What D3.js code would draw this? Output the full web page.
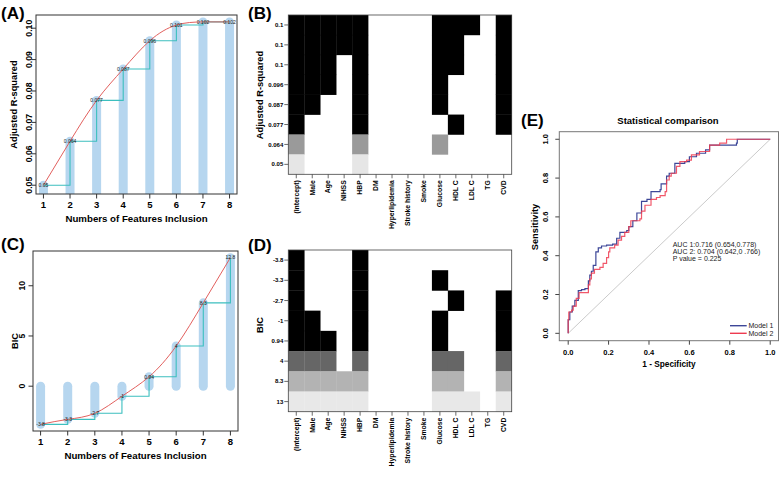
<!DOCTYPE html>
<html>
<head>
<meta charset="utf-8">
<script src="https://cdn.jsdelivr.net/npm/d3@7"></script>
<style>
body { margin: 0; background: #fff; }
svg { font-family: "Liberation Sans", Arial, sans-serif; }
</style>
</head>
<body>
<svg id="fig" width="779" height="478"></svg>
<script>
// ---- data ----
var featureCounts = [1, 2, 3, 4, 5, 6, 7, 8];
var adjR2 = [0.05, 0.064, 0.077, 0.087, 0.096, 0.101, 0.102, 0.102];
var adjR2Labels = ["0.05", "0.064", "0.077", "0.087", "0.096", "0.101", "0.102", "0.102"];
var bicValues = [-3.8, -3.3, -2.7, -1, 0.94, 4, 8.3, 12.8];
var bicLabels = ["-3.8", "-3.3", "-2.7", "-1", "0.94", "4", "8.3", "12.8"];

var variables = ["(Intercept)", "Male", "Age", "NIHSS", "HBP", "DM", "Hyperlipidemia",
    "Stroke history", "Smoke", "Glucose", "HDL C", "LDL C", "TG", "CVD"];

// rows listed top to bottom
var r2RowLabels = ["0.1", "0.1", "0.1", "0.096", "0.087", "0.077", "0.064", "0.05"];
var r2Models = [
    ["(Intercept)", "Male", "Age", "NIHSS", "HBP", "Glucose", "HDL C", "LDL C", "CVD"],
    ["(Intercept)", "Male", "Age", "NIHSS", "HBP", "Glucose", "HDL C", "CVD"],
    ["(Intercept)", "Male", "Age", "HBP", "Glucose", "HDL C", "CVD"],
    ["(Intercept)", "Male", "Age", "HBP", "Glucose", "CVD"],
    ["(Intercept)", "Male", "HBP", "Glucose", "CVD"],
    ["(Intercept)", "HBP", "HDL C", "CVD"],
    ["(Intercept)", "HBP", "Glucose"],
    ["(Intercept)", "HBP"]
];
var bicRowLabels = ["-3.8", "-3.3", "-2.7", "-1", "0.94", "4", "8.3", "13"];
var bicModels = [
    ["(Intercept)", "HBP"],
    ["(Intercept)", "HBP", "Glucose"],
    ["(Intercept)", "HBP", "HDL C", "CVD"],
    ["(Intercept)", "Male", "HBP", "Glucose", "CVD"],
    ["(Intercept)", "Male", "Age", "HBP", "Glucose", "CVD"],
    ["(Intercept)", "Male", "Age", "HBP", "Glucose", "HDL C", "CVD"],
    ["(Intercept)", "Male", "Age", "NIHSS", "HBP", "Glucose", "HDL C", "CVD"],
    ["(Intercept)", "Male", "Age", "NIHSS", "HBP", "Glucose", "HDL C", "LDL C", "CVD"]
];

// ROC corners [1 - specificity, sensitivity]
var rocModel1 = [[0,0],[0,0.07],[0.008,0.11],[0.02,0.14],[0.033,0.17],[0.05,0.22],[0.066,0.225],
    [0.083,0.23],[0.1,0.27],[0.107,0.3],[0.115,0.32],[0.124,0.35],[0.137,0.42],[0.149,0.44],
    [0.165,0.45],[0.19,0.455],[0.22,0.46],[0.24,0.49],[0.256,0.52],[0.29,0.53],[0.3,0.55],
    [0.32,0.58],[0.34,0.62],[0.363,0.68],[0.39,0.69],[0.41,0.73],[0.455,0.74],[0.46,0.77],
    [0.487,0.81],[0.5,0.825],[0.528,0.876],[0.577,0.885],[0.6,0.91],[0.635,0.928],[0.68,0.945],
    [0.7,0.97],[0.833,0.98],[0.837,1],[1,1]];
var rocModel2 = [[0,0],[0,0.07],[0.003,0.11],[0.017,0.12],[0.025,0.14],[0.04,0.18],[0.054,0.21],
    [0.1,0.25],[0.107,0.28],[0.115,0.31],[0.13,0.33],[0.157,0.34],[0.173,0.36],[0.19,0.39],
    [0.2,0.42],[0.206,0.44],[0.23,0.455],[0.247,0.48],[0.264,0.5],[0.28,0.52],[0.3,0.55],
    [0.31,0.58],[0.355,0.59],[0.363,0.63],[0.38,0.66],[0.41,0.69],[0.437,0.7],[0.455,0.71],
    [0.48,0.73],[0.487,0.79],[0.5,0.81],[0.51,0.825],[0.536,0.86],[0.553,0.885],[0.586,0.893],
    [0.61,0.92],[0.65,0.937],[0.7,0.97],[0.75,0.98],[0.784,1],[1,1]];
var aucLines = ["AUC 1:0.716 (0.654,0.778)", "AUC 2: 0.704 (0.642,0 .766)", "P value = 0.225"];
var rocTicks = [0, 0.2, 0.4, 0.6, 0.8, 1.0];

// ---- styles ----
var barColor = "#b6d6ef",
    curveColor = "#e2605e",
    stepColor = "#3cbfbf",
    shadesR2 = ["#000", "#000", "#000", "#000", "#000", "#000", "#9a9a9a", "#e6e6e6"],
    shadesBic = ["#000", "#000", "#000", "#000", "#000", "#666666", "#b3b3b3", "#e8e8e8"],
    model1Color = "#3d4798",
    model2Color = "#ee3b50";

var svg = d3.select("#fig");
var defs = svg.append("defs");

function panelLabel(txt, x, y) {
    svg.append("text").attr("x", x).attr("y", y)
        .attr("font-size", 17).attr("font-weight", "bold").text(txt);
}

// ---- line panels (A, C) ----
function linePanel(opts) {
    var x = d3.scaleLinear().domain([0.72, 8.28]).range([opts.left, opts.right]);
    var y = d3.scaleLinear().domain(opts.ydom).range([opts.bottom, opts.top]);
    var g = svg.append("g");
    var clipId = "clip-" + opts.id;
    defs.append("clipPath").attr("id", clipId).append("rect")
        .attr("x", opts.left).attr("y", opts.top)
        .attr("width", opts.right - opts.left).attr("height", opts.bottom - opts.top);

    var base = opts.base;
    g.append("g").attr("clip-path", "url(#" + clipId + ")")
        .selectAll("line").data(opts.values).join("line")
        .attr("x1", function(d, i) { return x(featureCounts[i]); })
        .attr("x2", function(d, i) { return x(featureCounts[i]); })
        .attr("y1", y(base))
        .attr("y2", function(d) { return y(d); })
        .attr("stroke", barColor).attr("stroke-width", 9)
        .attr("stroke-linecap", "round");

    var pts = opts.values.map(function(v, i) { return [featureCounts[i], v]; });
    g.append("path").datum(pts)
        .attr("d", d3.line().x(function(d) { return x(d[0]); }).y(function(d) { return y(d[1]); })
            .curve(d3.curveStepAfter))
        .attr("fill", "none").attr("stroke", stepColor).attr("stroke-width", 1.1);
    g.append("path").datum(pts)
        .attr("d", d3.line().x(function(d) { return x(d[0]); }).y(function(d) { return y(d[1]); })
            .curve(d3.curveNatural))
        .attr("fill", "none").attr("stroke", curveColor).attr("stroke-width", 1);

    g.selectAll("text.pt").data(pts).join("text").attr("class", "pt")
        .attr("x", function(d) { return x(d[0]); })
        .attr("y", function(d) { return y(d[1]) + 1.8; })
        .attr("text-anchor", "middle").attr("font-size", 5).attr("fill", "#222")
        .text(function(d, i) { return opts.labels[i]; });

    g.append("rect").attr("x", opts.left).attr("y", opts.top)
        .attr("width", opts.right - opts.left).attr("height", opts.bottom - opts.top)
        .attr("fill", "none").attr("stroke", "#333").attr("stroke-width", 1);

    // x axis
    var xa = g.append("g");
    xa.selectAll("line").data(featureCounts).join("line")
        .attr("x1", x).attr("x2", x).attr("y1", opts.bottom).attr("y2", opts.bottom + 4.5)
        .attr("stroke", "#333");
    xa.selectAll("text").data(featureCounts).join("text")
        .attr("x", x).attr("y", opts.bottom + 13.5)
        .attr("text-anchor", "middle").attr("font-size", 9.5).attr("font-weight", "bold")
        .text(function(d) { return d; });
    g.append("text").attr("x", (opts.left + opts.right) / 2).attr("y", opts.bottom + 27.5)
        .attr("text-anchor", "middle").attr("font-size", 9.7).attr("font-weight", "bold")
        .text("Numbers of Features Inclusion");

    // y axis
    var ya = g.append("g");
    ya.selectAll("line").data(opts.yticks).join("line")
        .attr("x1", opts.left - 4.5).attr("x2", opts.left).attr("y1", y).attr("y2", y)
        .attr("stroke", "#333");
    ya.selectAll("text").data(opts.yticks).join("text")
        .attr("transform", function(d) { return "translate(" + opts.ylabX + "," + y(d) + ") rotate(-90)"; })
        .attr("text-anchor", "middle").attr("font-size", 8.7).attr("font-weight", "bold")
        .text(opts.yfmt);
    g.append("text")
        .attr("transform", "translate(" + opts.titleX + "," + (opts.top + opts.bottom) / 2 + ") rotate(-90)")
        .attr("text-anchor", "middle").attr("font-size", 9.3).attr("font-weight", "bold")
        .text(opts.ytitle);
}

linePanel({
    id: "a", left: 36, right: 237, top: 15, bottom: 194,
    ydom: [0.0472, 0.1042], values: adjR2, labels: adjR2Labels, base: 0.0472,
    yticks: [0.05, 0.06, 0.07, 0.08, 0.09, 0.10], yfmt: d3.format(".2f"),
    ylabX: 32, titleX: 16.5, ytitle: "Adjusted R-squared"
});
linePanel({
    id: "c", left: 33, right: 238, top: 251, bottom: 431,
    ydom: [-4.46, 13.46], values: bicValues, labels: bicLabels, base: 0,
    yticks: [0, 5, 10], yfmt: function(d) { return d; },
    ylabX: 25, titleX: 17.5, ytitle: "BIC"
});

// ---- heatmap panels (B, D) ----
function heatPanel(opts) {
    var x = d3.scaleBand().domain(variables).range([opts.left, opts.right]);
    var y = d3.scaleBand().domain(d3.range(opts.rowLabels.length)).range([opts.top, opts.bottom]);
    var g = svg.append("g");
    var cells = [];
    opts.models.forEach(function(m, r) {
        m.forEach(function(v) { cells.push({ row: r, v: v }); });
    });
    g.selectAll("rect.cell").data(cells).join("rect").attr("class", "cell")
        .attr("x", function(d) { return x(d.v); })
        .attr("y", function(d) { return y(d.row); })
        .attr("width", x.bandwidth() + 0.3).attr("height", y.bandwidth() + 0.3)
        .attr("fill", function(d) { return opts.shades[d.row]; });
    g.append("rect").attr("x", opts.left).attr("y", opts.top)
        .attr("width", opts.right - opts.left).attr("height", opts.bottom - opts.top)
        .attr("fill", "none").attr("stroke", "#444").attr("stroke-width", 0.8);

    var rows = d3.range(opts.rowLabels.length);
    g.selectAll("line.yt").data(rows).join("line").attr("class", "yt")
        .attr("x1", opts.left - 4).attr("x2", opts.left)
        .attr("y1", function(d) { return y(d) + y.bandwidth() / 2; })
        .attr("y2", function(d) { return y(d) + y.bandwidth() / 2; })
        .attr("stroke", "#444").attr("stroke-width", 0.8);
    g.selectAll("text.yl").data(rows).join("text").attr("class", "yl")
        .attr("x", opts.left - 5)
        .attr("y", function(d) { return y(d) + y.bandwidth() / 2 + 2.1; })
        .attr("text-anchor", "end").attr("font-size", 6).attr("font-weight", "bold")
        .text(function(d) { return opts.rowLabels[d]; });

    g.selectAll("line.xt").data(variables).join("line").attr("class", "xt")
        .attr("x1", function(d) { return x(d) + x.bandwidth() / 2; })
        .attr("x2", function(d) { return x(d) + x.bandwidth() / 2; })
        .attr("y1", opts.bottom).attr("y2", opts.bottom + 4)
        .attr("stroke", "#444").attr("stroke-width", 0.8);
    g.selectAll("text.xl").data(variables).join("text").attr("class", "xl")
        .attr("transform", function(d) {
            return "translate(" + (x(d) + x.bandwidth() / 2 + 2.3) + "," + (opts.bottom + 6) + ") rotate(-90)";
        })
        .attr("text-anchor", "end").attr("font-size", 6.8).attr("font-weight", "bold")
        .text(function(d) { return d; });

    g.append("text")
        .attr("transform", "translate(262.5," + opts.titleY + ") rotate(-90)")
        .attr("text-anchor", "middle").attr("font-size", 9.3).attr("font-weight", "bold")
        .text(opts.ytitle);
}

heatPanel({ left: 288.3, right: 511.7, top: 15, bottom: 174.3, rowLabels: r2RowLabels,
    models: r2Models, shades: shadesR2, ytitle: "Adjusted R-squared", titleY: 95 });
heatPanel({ left: 288.3, right: 511.7, top: 250, bottom: 411.7, rowLabels: bicRowLabels,
    models: bicModels, shades: shadesBic, ytitle: "BIC", titleY: 325 });

// ---- ROC panel (E) ----
(function() {
    var x = d3.scaleLinear().domain([-0.044, 1.045]).range([559.3, 779.3]);
    var y = d3.scaleLinear().domain([-0.038, 1.039]).range([340.7, 131.7]);
    var g = svg.append("g");
    g.append("line").attr("x1", x(0)).attr("y1", y(0)).attr("x2", x(1)).attr("y2", y(1))
        .attr("stroke", "#c4c4c4").attr("stroke-width", 0.9);
    var line = d3.line().x(function(d) { return x(d[0]); }).y(function(d) { return y(d[1]); })
        .curve(d3.curveStepAfter);
    g.append("path").datum(rocModel1).attr("d", line)
        .attr("fill", "none").attr("stroke", model1Color).attr("stroke-width", 1.2);
    g.append("path").datum(rocModel2).attr("d", line)
        .attr("fill", "none").attr("stroke", model2Color).attr("stroke-width", 1.2)
        .attr("stroke-opacity", 0.85);

    g.append("rect").attr("x", 559.3).attr("y", 131.7).attr("width", 219.2).attr("height", 209)
        .attr("fill", "none").attr("stroke", "#777").attr("stroke-width", 1);

    g.selectAll("line.xt").data(rocTicks).join("line").attr("class", "xt")
        .attr("x1", x).attr("x2", x).attr("y1", 340.7).attr("y2", 344.7).attr("stroke", "#444");
    g.selectAll("text.xl").data(rocTicks).join("text").attr("class", "xl")
        .attr("x", x).attr("y", 354.5).attr("text-anchor", "middle")
        .attr("font-size", 7.5).attr("font-weight", "bold").text(d3.format(".1f"));
    g.selectAll("line.yt").data(rocTicks).join("line").attr("class", "yt")
        .attr("x1", 555.3).attr("x2", 559.3).attr("y1", y).attr("y2", y).attr("stroke", "#444");
    g.selectAll("text.yl").data(rocTicks).join("text").attr("class", "yl")
        .attr("transform", function(d) { return "translate(547.8," + y(d) + ") rotate(-90)"; })
        .attr("text-anchor", "middle").attr("font-size", 7.5).attr("font-weight", "bold")
        .text(d3.format(".1f"));

    g.append("text").attr("x", 668).attr("y", 124).attr("text-anchor", "middle")
        .attr("font-size", 9.5).attr("font-weight", "bold").text("Statistical comparison");
    g.append("text").attr("x", 669).attr("y", 367).attr("text-anchor", "middle")
        .attr("font-size", 8.3).attr("font-weight", "bold").text("1 - Specificity");
    g.append("text").attr("transform", "translate(538,227) rotate(-90)")
        .attr("text-anchor", "middle").attr("font-size", 9.3).attr("font-weight", "bold")
        .text("Sensitivity");

    g.selectAll("text.auc").data(aucLines).join("text").attr("class", "auc")
        .attr("x", 672.7).attr("y", function(d, i) { return 246.5 + i * 7.1; })
        .attr("font-size", 7).attr("fill", "#222").text(function(d) { return d; });

    var legend = [["Model 1", model1Color], ["Model 2", model2Color]];
    var lg = g.selectAll("g.lg").data(legend).join("g").attr("class", "lg")
        .attr("transform", function(d, i) { return "translate(730," + (325.7 + i * 7.6) + ")"; });
    lg.append("line").attr("x1", 0).attr("x2", 16.7)
        .attr("stroke", function(d) { return d[1]; }).attr("stroke-width", 1.4);
    lg.append("text").attr("x", 18.5).attr("y", 2.5).attr("font-size", 7).attr("fill", "#222")
        .text(function(d) { return d[0]; });
})();

panelLabel("(A)", 1, 19);
panelLabel("(B)", 248, 19);
panelLabel("(C)", 1, 250);
panelLabel("(D)", 248, 251);
panelLabel("(E)", 521, 126);
</script>
</body>
</html>
